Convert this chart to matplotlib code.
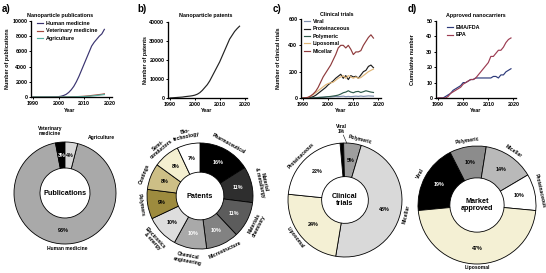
import matplotlib
matplotlib.use('Agg')
import matplotlib.pyplot as plt
import numpy as np

plt.rcParams['font.family'] = ['Liberation Sans', 'DejaVu Sans']
plt.rcParams['font.weight'] = 'bold'

# ---------------- data ----------------
years_pub = list(range(1990, 2019))
human_medicine = [0, 0, 0, 5, 5, 10, 10, 15, 20, 30, 50, 100, 200, 350, 600, 950, 1400, 2000,
                  2700, 3500, 4300, 5100, 5900, 6700, 7200, 7600, 8000, 8300, 8900]
veterinary_medicine = [0, 0, 0, 0, 0, 0, 0, 0, 0, 0, 5, 5, 10, 15, 20, 25, 35, 45,
                       60, 80, 100, 130, 160, 200, 240, 280, 320, 360, 420]
agriculture = [0, 0, 0, 0, 0, 0, 0, 0, 0, 0, 0, 5, 5, 10, 10, 15, 20, 30,
               40, 50, 60, 80, 100, 130, 160, 200, 240, 280, 320]

years_pat = list(range(1990, 2019))
patents = [0, 100, 200, 300, 400, 500, 700, 850, 1000, 1200, 1500, 2000, 2800, 4000, 5500,
           7000, 9000, 11500, 14000, 16500, 19000, 22000, 25000, 28000, 31000, 33000,
           35000, 36500, 37800]

years_ct = list(range(1990, 2019))
ct_viral = [0, 0, 0, 0, 2, 3, 5, 5, 6, 8, 10, 8, 10, 12, 10, 12, 14, 10, 12, 10, 12,
            14, 12, 15, 12, 14, 16, 15, 14]
ct_proteinaceous = [0, 0, 2, 5, 10, 20, 35, 50, 65, 80, 100, 115, 130, 150, 165, 180, 150,
                    170, 140, 170, 160, 165, 150, 175, 200, 210, 240, 250, 230]
ct_polymeric = [0, 0, 0, 0, 0, 2, 3, 5, 6, 8, 10, 12, 15, 18, 22, 30, 40, 45, 55, 45, 40,
                48, 50, 42, 48, 55, 50, 45, 42]
ct_liposomal = [0, 0, 5, 15, 25, 40, 55, 70, 85, 100, 110, 115, 120, 135, 150, 160, 170, 150,
                170, 160, 150, 160, 150, 155, 170, 185, 200, 210, 220]
ct_micellar = [0, 2, 5, 15, 30, 50, 80, 120, 160, 190, 220, 250, 290, 330, 380, 400, 400,
               380, 400, 370, 330, 350, 350, 360, 400, 430, 460, 480, 455]

years_app = list(range(1990, 2020))
ema_fda = [0, 0, 0, 1, 2, 3, 5, 6, 7, 8, 10, 10, 11, 12, 12, 13, 13, 13, 13, 13, 13, 13,
           14, 14, 13, 15, 15, 17, 18, 19]
epa = [0, 0, 0, 0, 1, 3, 4, 5, 6, 7, 9, 10, 11, 12, 12, 13, 15, 17, 19, 21, 23, 27, 27,
       29, 31, 31, 33, 36, 38, 39]

pub_cats = ['Human medicine', 'Veterinary\nmedicine', 'Agriculture']
pub_vals = [93, 3, 4]

pat_cats = ['Pharmaceutical', 'Material\n& metallurgy', 'Materials\nchemistry', 'Microstructure',
            'Chemical\nengineering', 'Electronics\n& energy', 'Polymers', 'Coatings',
            'Semi-\nconductors', 'Bio-\ntechnology']
pat_vals = [16, 11, 11, 10, 10, 10, 9, 8, 8, 7]

ct_cats = ['Viral', 'Polymeric', 'Micellar', 'Liposomal', 'Proteinaceous']
ct_vals = [1, 5, 48, 24, 22]

app_cats = ['Viral', 'Polymeric', 'Micellar', 'Proteinaceous', 'Liposomal']
app_vals = [19, 10, 14, 10, 47]

# ---------------- figure ----------------
W, H = 546, 273
fig = plt.figure(figsize=(5.46, 2.73), dpi=100)


def box(l, t, r, b):
    return fig.add_axes([l / W, 1 - b / H, (r - l) / W, (b - t) / H])


def ftext(x, y, s, **kw):
    fig.text(x / W, 1 - y / H, s, **kw)


FS = 3.9
LW = 0.85


def style(ax, ymax, ystep):
    ax.set_xlim(1989.2, 2021)
    ax.set_ylim(0, ymax)
    ax.set_xticks([1990, 2000, 2010, 2020])
    ax.set_yticks(np.arange(0, ymax + 1, ystep))
    for s in ['top', 'right']:
        ax.spines[s].set_visible(False)
    for s in ['left', 'bottom']:
        ax.spines[s].set_linewidth(0.95)
    ax.tick_params(labelsize=FS, length=1.6, width=0.7, pad=1)
    for lab in ax.get_xticklabels() + ax.get_yticklabels():
        lab.set_fontweight('bold')
    ax.patch.set_alpha(0)


def legend(ax, x, y):
    ax.legend(loc='upper left', bbox_to_anchor=(x / W, 1 - y / H), bbox_transform=fig.transFigure,
              frameon=False, fontsize=FS, handlelength=1.1, handletextpad=0.5,
              labelspacing=0.45, borderpad=0, borderaxespad=0)


# a)
ax = box(31, 21, 112, 97)
ax.plot(years_pub, human_medicine, color='#3a3470', lw=LW, label='Human medicine')
ax.plot(years_pub, veterinary_medicine, color='#a34a3f', lw=LW, label='Veterinary medicine')
ax.plot(years_pub, agriculture, color='#56b0a0', lw=LW, label='Agriculture')
style(ax, 10000, 2000)
legend(ax, 37, 21)
ftext(60, 15, 'Nanoparticle publications', fontsize=FS, ha='center', va='center')
ftext(8, 59, 'Number of publications', fontsize=FS, rotation=90, ha='center', va='center')
ftext(70, 110, 'Year', fontsize=FS, ha='center', va='center')
ftext(2, 9, 'a)', fontsize=7, ha='left', va='center')

# b)
ax = box(168, 22, 247, 98)
ax.plot(years_pat, patents, color='#222222', lw=LW)
style(ax, 40000, 10000)
ftext(206, 15, 'Nanoparticle patents', fontsize=FS, ha='center', va='center')
ftext(146, 60, 'Number of patents', fontsize=FS, rotation=90, ha='center', va='center')
ftext(207, 111, 'Year', fontsize=FS, ha='center', va='center')
ftext(137, 9, 'b)', fontsize=7, ha='left', va='center')

# c)
ax = box(301, 19, 381, 98)
ax.plot(years_ct, ct_viral, color='#7f8fae', lw=LW, label='Viral')
ax.plot(years_ct, ct_proteinaceous, color='#1e1e1e', lw=LW, label='Proteinaceous')
ax.plot(years_ct, ct_polymeric, color='#2f5a4b', lw=LW, label='Polymeric')
ax.plot(years_ct, ct_liposomal, color='#e0b678', lw=LW, label='Liposomal')
ax.plot(years_ct, ct_micellar, color='#8e3a3c', lw=LW, label='Micellar')
style(ax, 600, 200)
legend(ax, 304, 19)
ftext(337, 15, 'Clinical trials', fontsize=FS, ha='center', va='center')
ftext(279, 58, 'Number of clinical trials', fontsize=FS, rotation=90, ha='center', va='center')
ftext(341, 111, 'Year', fontsize=FS, ha='center', va='center')
ftext(273, 9, 'c)', fontsize=7, ha='left', va='center')

# d)
ax = box(436, 21, 516, 98)
ax.plot(years_app, ema_fda, color='#2d3a7a', lw=LW, label='EMA/FDA')
ax.plot(years_app, epa, color='#9c3c52', lw=LW, label='EPA')
style(ax, 50, 10)
legend(ax, 447, 25)
ftext(476, 16, 'Approved nanocarriers', fontsize=FS, ha='center', va='center')
ftext(413, 60, 'Cumulative number', fontsize=FS, rotation=90, ha='center', va='center')
ftext(476, 111, 'Year', fontsize=FS, ha='center', va='center')
ftext(408, 9, 'd)', fontsize=7, ha='left', va='center')


# ---------------- donuts ----------------
def donut(cx, cy, R, vals, cols, start, width, center_text, pct_cols, labels, label_r,
          skip_pct=(), manual=None, cfs=5.2):
    k = 1.8
    ax = box(cx - k * R, cy - k * R, cx + k * R, cy + k * R)
    wedges, _ = ax.pie(vals, colors=cols, startangle=start, counterclock=False, radius=1,
                       wedgeprops=dict(width=width, edgecolor='black', linewidth=0.6))
    ax.set_xlim(-k, k)
    ax.set_ylim(-k, k)
    ax.set_aspect('equal')
    ax.axis('off')
    rm = 1 - width / 2
    for i, (w, v) in enumerate(zip(wedges, vals)):
        a = (w.theta1 + w.theta2) / 2
        ar = np.deg2rad(a)
        if i not in skip_pct:
            ax.text(rm * np.cos(ar), rm * np.sin(ar), f'{v}%', fontsize=FS, ha='center',
                    va='center', color=pct_cols[i])
        if manual is not None and manual[i] is not None:
            x, y, rot = manual[i]
        else:
            an = (a + 180) % 360 - 180
            rot = an - 90 if an >= 0 else an + 90
            x, y = label_r[i] * np.cos(ar), label_r[i] * np.sin(ar)
        ax.text(x, y, labels[i], fontsize=3.6, ha='center', va='center', rotation=rot,
                rotation_mode='anchor', linespacing=1.0)
    ax.text(0, 0, center_text, fontsize=cfs, ha='center', va='center', linespacing=1.1)
    return ax


# Publications
donut(65, 193, 51, pub_vals, ['#a9a9a9', '#000000', '#d9d9d9'], 75.6, 0.51, 'Publications',
      ['black', 'white', 'black'], pub_cats, [1.1, 1.2, 1.1],
      manual=[(0.04, -1.08, 0), (-0.29, 1.22, 0), (0.72, 1.08, 0)])

# Patents
pat_cols = ['#000000', '#2e2e2e', '#5c5c5c', '#828282', '#a9a9a9', '#dedede', '#9d8b3e',
            '#cdbf86', '#f4efd0', '#ffffff']
pat_pct = ['white', 'white', 'white', 'white', 'white', 'black', 'black', 'black', 'black', 'black']
donut(200, 196, 53, pat_vals, pat_cols, 90, 0.55, 'Patents', pat_pct, pat_cats,
      [1.12, 1.2, 1.2, 1.12, 1.2, 1.2, 1.12, 1.12, 1.2, 1.2])

# Clinical trials
ct_cols = ['#000000', '#9e9e9e', '#d9d9d9', '#f4f0d4', '#ffffff']
ax3 = donut(345, 200, 57, ct_vals, ct_cols, 95, 0.59, 'Clinical\ntrials',
            ['white', 'black', 'black', 'black', 'black'], ['Viral\n1%', 'Polymeric', 'Micellar',
                                                           'Liposomal', 'Proteinaceous'],
            [1.2, 1.1, 1.1, 1.1, 1.1], skip_pct=(0,),
            manual=[(-0.06, 1.24, 0), (0.27, 1.06, -14), None, None, None])
ax3.plot([-0.03, 0.03], [1.14, 1.0], color='black', lw=0.4)

# Market approved
app_cols = ['#000000', '#8c8c8c', '#b9b9b9', '#ffffff', '#f4f0d4']
donut(477, 205, 59, app_vals, app_cols, 185.4, 0.54, 'Market\napproved',
      ['white', 'black', 'black', 'black', 'black'], app_cats, [1.1, 1.1, 1.1, 1.1, 1.06])

fig.savefig('out.png', dpi=100)
